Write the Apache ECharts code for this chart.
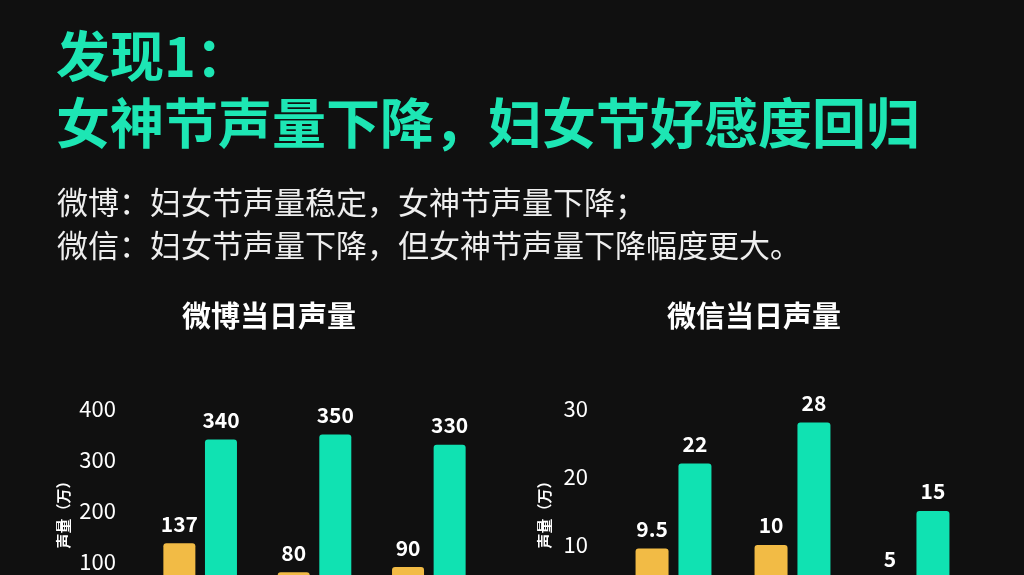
<!DOCTYPE html>
<html>
<head>
<meta charset="utf-8">
<script src="https://cdn.jsdelivr.net/npm/echarts@6/dist/echarts.min.js"></script>
<style>
html,body{margin:0;padding:0;background:#101010;overflow:hidden;width:1024px;height:575px;}
#chart{width:1024px;height:700px;}
</style>
</head>
<body>
<div id="chart"></div>
<script>
var titleLines = ['发现1：', '女神节声量下降，妇女节好感度回归'];
var subLines = ['微博：妇女节声量稳定，女神节声量下降；', '微信：妇女节声量下降，但女神节声量下降幅度更大。'];
var chartTitles = ['微博当日声量', '微信当日声量'];
var axisName = '声量（万）';
var seriesNames = ['女神节', '妇女节'];
var categories = ['2021', '2022', '2023'];
var weiboGoddess = [137, 80, 90];
var weiboWomen = [340, 350, 330];
var wechatGoddess = [9.5, 10, 5];
var wechatWomen = [22, 28, 15];
var weiboTicks = {min: 0, max: 400, interval: 100};
var wechatTicks = {min: 0, max: 30, interval: 10};

var YELLOW = '#f2bb45', GREEN = '#10e2b2', TITLE_GREEN = '#1de6b4';
var FONT = '"Noto Sans CJK SC", "Noto Sans", sans-serif';

function barSeries(name, data, color, axisIdx, width) {
  return {
    type: 'bar', name: name, data: data, xAxisIndex: axisIdx, yAxisIndex: axisIdx,
    barWidth: width, barGap: '30%',
    itemStyle: {color: color, borderRadius: [3, 3, 0, 0]},
    label: {show: true, position: 'top', distance: 9, color: '#ffffff',
      fontFamily: FONT, fontWeight: 'bold', fontSize: 21}
  };
}
function yAx(idx, ticks, gap, margin) {
  return {
    type: 'value', gridIndex: idx, min: ticks.min, max: ticks.max, interval: ticks.interval,
    name: axisName, nameLocation: 'middle', nameRotate: 90, nameGap: gap,
    nameTextStyle: {color: '#ffffff', fontFamily: FONT, fontWeight: 'bold', fontSize: 15},
    axisLine: {show: false}, axisTick: {show: false}, splitLine: {show: false},
    axisLabel: {color: '#ffffff', fontFamily: FONT, fontSize: 22, margin: margin}
  };
}
function xAx(idx) {
  return {
    type: 'category', gridIndex: idx, data: categories,
    axisLine: {show: false}, axisTick: {show: false}, axisLabel: {show: false}
  };
}
function txt(str, x, y, size, color, weight, align) {
  return {type: 'text', x: x, y: y, silent: true,
    style: {text: str, fill: color, font: weight + ' ' + size + 'px ' + FONT,
      textAlign: align || 'left', textVerticalAlign: 'middle'}};
}

var chart = echarts.init(document.getElementById('chart'));
chart.setOption({
  backgroundColor: '#101010',
  animation: false,
  graphic: [
    txt(titleLines[0], 56, 56, 54, TITLE_GREEN, 'bold'),
    txt(titleLines[1], 56, 123, 54, TITLE_GREEN, 'bold'),
    txt(subLines[0], 57, 202, 31, '#eeeeee', 'normal'),
    txt(subLines[1], 57, 245, 31, '#eeeeee', 'normal'),
    txt(chartTitles[0], 269, 316, 29, '#ffffff', 'bold', 'center'),
    txt(chartTitles[1], 754, 316, 29, '#ffffff', 'bold', 'center')
  ],
  grid: [
    {left: 143, top: 409, width: 343, height: 204},
    {left: 614, top: 409, width: 357, height: 204}
  ],
  xAxis: [xAx(0), xAx(1)],
  yAxis: [yAx(0, weiboTicks, 72, 27), yAx(1, wechatTicks, 62, 26)],
  series: [
    barSeries(seriesNames[0], weiboGoddess, YELLOW, 0, 32),
    barSeries(seriesNames[1], weiboWomen, GREEN, 0, 32),
    barSeries(seriesNames[0], wechatGoddess, YELLOW, 1, 33),
    barSeries(seriesNames[1], wechatWomen, GREEN, 1, 33)
  ]
});
</script>
</body>
</html>
